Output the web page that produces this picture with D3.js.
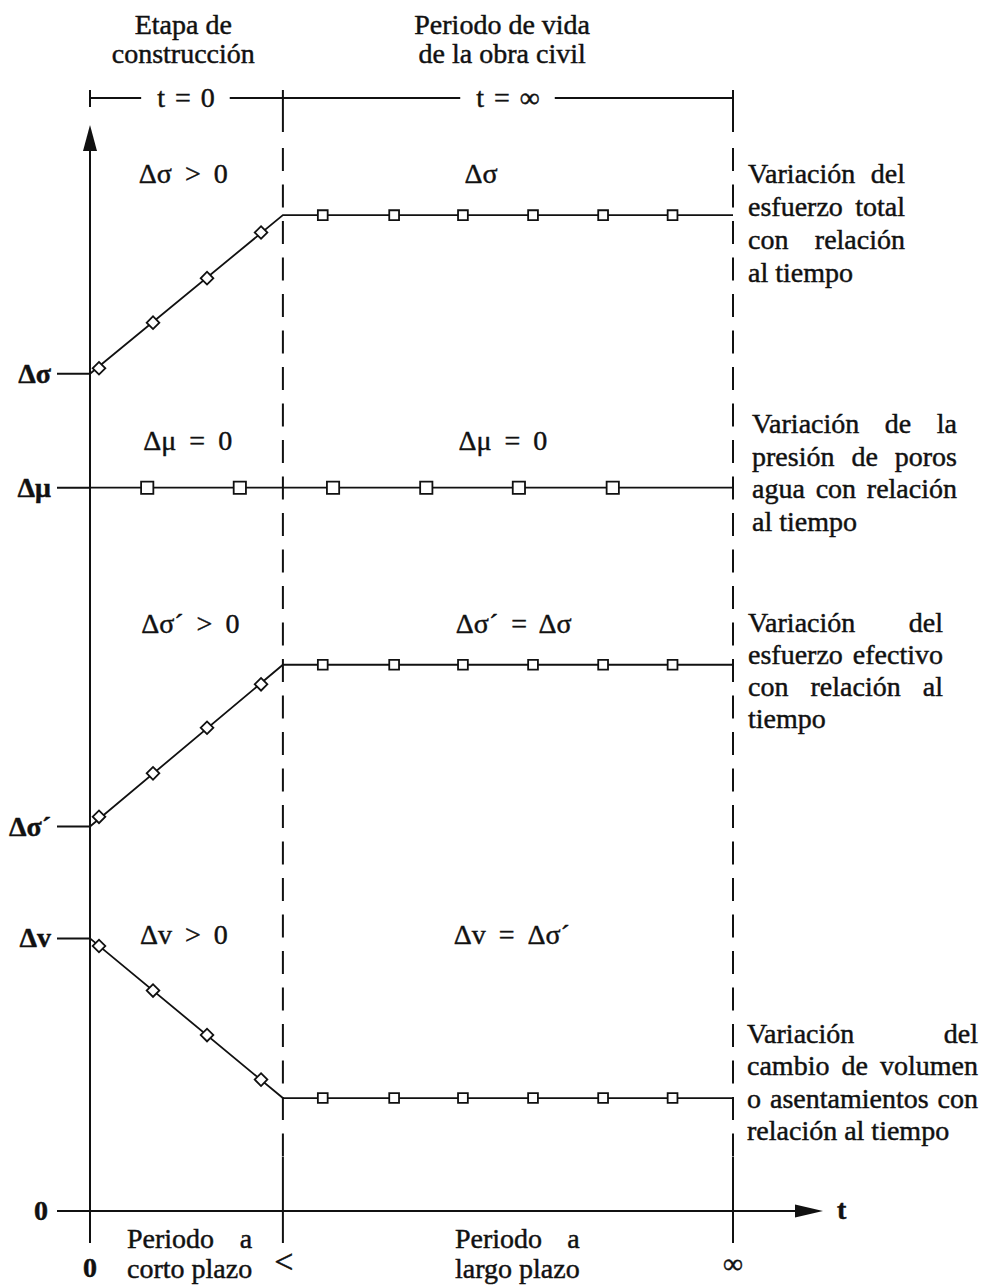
<!DOCTYPE html>
<html>
<head>
<meta charset="utf-8">
<script src="https://cdn.jsdelivr.net/npm/d3@7"></script>
<style>
  html, body { margin: 0; padding: 0; background: #fff; }
  svg { display: block; }
  text { font-family: "Liberation Serif", "Times New Roman", serif; fill: #111; stroke: #111; stroke-width: 0.45px; }
</style>
</head>
<body>
<svg id="chart" width="983" height="1286"></svg>
<script>
// ---- time axis (0 = start, 30 = end of construction, 100 = t -> infinity)
const tBuilt = 30;
const tInf = 100;
const tAxisEnd = 114;

// ---- levels marked on the vertical axis
const levelLabels = ["Δσ", "Δμ", "Δσ´", "Δv", "0"];
const levelValues = [77.1, 66.6, 35.4, 25.1, 0];

// ---- break points of each curve [t, value]
const totalStressLine = [[0, 77.1], [30, 91.7], [100, 91.7]];
const porePressureLine = [[0, 66.6], [100, 66.6]];
const effectiveStressLine = [[0, 35.4], [30, 50.3], [100, 50.3]];
const volumeLine = [[0, 25.1], [30, 10.4], [100, 10.4]];

// ---- construction-stage readings (diamonds)
const rampTimes = [1.4, 9.8, 18.2, 26.6];
const totalStressRamp = [77.6, 81.8, 85.9, 90.1];
const effectiveStressRamp = [36.3, 40.3, 44.5, 48.5];
const volumeRamp = [24.4, 20.3, 16.2, 12.1];

// ---- long-term readings (squares)
const plateauTimes = [36.2, 47.3, 58.0, 68.9, 79.8, 90.6];
const totalStressPlateau = [91.7, 91.7, 91.7, 91.7, 91.7, 91.7];
const effectiveStressPlateau = [50.3, 50.3, 50.3, 50.3, 50.3, 50.3];
const volumePlateau = [10.4, 10.4, 10.4, 10.4, 10.4, 10.4];
const poreTimes = [8.9, 23.3, 37.8, 52.3, 66.7, 81.3];
const porePressureValues = [66.6, 66.6, 66.6, 66.6, 66.6, 66.6];

// ---- region annotations
const regionTexts = ["Δσ > 0", "Δσ", "Δμ = 0", "Δμ = 0", "Δσ´ > 0", "Δσ´ = Δσ", "Δv > 0", "Δv = Δσ´"];
const regionTimes = [14.5, 60.8, 15.2, 64.2, 15.6, 65.9, 14.6, 65.6];
const regionValues = [94.7, 94.7, 70.1, 70.1, 53.2, 53.2, 24.6, 24.6];

// ---- descriptive texts
const stageTitles = [["Etapa de", "construcción"], ["Periodo de vida", "de la obra civil"]];
const stageTimes = [14.5, 64.1];
const bracketTexts = ["t = 0", "t = ∞"];
const curveNotes = [
  ["Variación del", "esfuerzo total", "con relación", "al tiempo"],
  ["Variación de la", "presión de poros", "agua con relación", "al tiempo"],
  ["Variación del", "esfuerzo efectivo", "con relación al", "tiempo"],
  ["Variación del", "cambio de volumen", "o asentamientos con", "relación al tiempo"]
];
const curveNoteTop = [94.7, 71.6, 53.3, 15.5];
const periodTexts = [["Periodo a", "corto plazo"], ["Periodo a", "largo plazo"]];
const timeTickLabels = ["0", "<", "∞"];

const svg = d3.select("#chart");
const x = d3.scaleLinear().domain([0, 100]).range([90, 733]);
const y = d3.scaleLinear().domain([0, 100]).range([1211, 125]);
const ink = "#111";
const FS = 28;

// ---------- vertical phase boundaries (dashed)
[tBuilt, tInf].forEach(t => {
  const xp = x(t);
  svg.append("line").attr("x1", xp).attr("x2", xp).attr("y1", 90).attr("y2", 132)
    .attr("stroke", ink).attr("stroke-width", 2);
  svg.append("line").attr("x1", xp).attr("x2", xp).attr("y1", 148).attr("y2", 1157)
    .attr("stroke", ink).attr("stroke-width", 2).attr("stroke-dasharray", "23 13.5");
  svg.append("line").attr("x1", xp).attr("x2", xp).attr("y1", 1157).attr("y2", 1243)
    .attr("stroke", ink).attr("stroke-width", 2);
});

// ---------- top bracket with t = 0 and t = inf
const bracketY = 98;
const bracketSpans = [[0, tBuilt], [tBuilt, tInf]];
svg.append("line").attr("x1", x(0)).attr("x2", x(0)).attr("y1", 90).attr("y2", 107)
  .attr("stroke", ink).attr("stroke-width", 2);
bracketSpans.forEach((s, i) => {
  const cx = i === 0 ? (x(s[0]) + x(s[1])) / 2 - 0.5 : 508;
  const tx = svg.append("text").attr("x", cx).attr("y", bracketY + 9)
    .attr("text-anchor", "middle").attr("font-size", FS).attr("word-spacing", 3)
    .text(bracketTexts[i]);
  const bb = tx.node().getBBox();
  svg.append("line").attr("x1", x(s[0])).attr("x2", bb.x - 16).attr("y1", bracketY).attr("y2", bracketY)
    .attr("stroke", ink).attr("stroke-width", 2);
  svg.append("line").attr("x1", bb.x + bb.width + 15).attr("x2", x(s[1])).attr("y1", bracketY).attr("y2", bracketY)
    .attr("stroke", ink).attr("stroke-width", 2);
});

// ---------- stage titles
stageTitles.forEach((lines, i) => {
  lines.forEach((l, j) => {
    svg.append("text").attr("x", x(stageTimes[i])).attr("y", 34 + j * 29)
      .attr("text-anchor", "middle").attr("font-size", FS).text(l);
  });
});

// ---------- axes
const axisX0 = x(0) - 33;
// vertical axis with arrow
svg.append("line").attr("x1", x(0)).attr("x2", x(0)).attr("y1", y(100) + 20).attr("y2", 1243)
  .attr("stroke", ink).attr("stroke-width", 2);
svg.append("path")
  .attr("d", `M${x(0)},${y(100)} L${x(0) - 7},${y(100) + 26} L${x(0) + 7},${y(100) + 26} Z`)
  .attr("fill", ink);
// horizontal (time) axis with arrow
svg.append("line").attr("x1", axisX0).attr("x2", x(tAxisEnd) - 20).attr("y1", y(0)).attr("y2", y(0))
  .attr("stroke", ink).attr("stroke-width", 2);
svg.append("path")
  .attr("d", `M${x(tAxisEnd)},${y(0)} L${x(tAxisEnd) - 28},${y(0) - 6.5} L${x(tAxisEnd) - 28},${y(0) + 6.5} Z`)
  .attr("fill", ink);
svg.append("text").attr("x", x(tAxisEnd) + 14).attr("y", y(0) + 8)
  .attr("font-size", FS).attr("font-weight", "bold").text("t");

// level ticks and labels on the vertical axis
levelLabels.forEach((lab, i) => {
  svg.append("line").attr("x1", axisX0).attr("x2", x(0))
    .attr("y1", y(levelValues[i])).attr("y2", y(levelValues[i]))
    .attr("stroke", ink).attr("stroke-width", 2);
  svg.append("text").attr("x", lab === "0" ? 48 : 51).attr("y", y(levelValues[i]) + 9)
    .attr("text-anchor", "end").attr("font-size", FS).attr("font-weight", "bold").text(lab);
});

// time labels under the axis
const tickTimes = [0, tBuilt, tInf];
timeTickLabels.forEach((lab, i) => {
  svg.append("text").attr("x", x(tickTimes[i]) + (i === 1 ? 1 : 0)).attr("y", i === 0 ? 1277 : 1273)
    .attr("text-anchor", "middle").attr("font-size", i === 1 ? 34 : FS)
    .attr("font-weight", i === 0 ? "bold" : "normal").text(lab);
});

// ---------- curves
const line = d3.line().x(d => x(d[0])).y(d => y(d[1]));
[totalStressLine, porePressureLine, effectiveStressLine, volumeLine].forEach(pts => {
  svg.append("path").attr("d", line(pts)).attr("fill", "none")
    .attr("stroke", ink).attr("stroke-width", 1.8).attr("stroke-linejoin", "miter");
});

// markers
const diamond = d3.symbol().type(d3.symbolSquare).size(80);
const squareSmall = d3.symbol().type(d3.symbolSquare).size(96);
const squareBig = d3.symbol().type(d3.symbolSquare).size(150);

function markers(times, values, sym, rotate) {
  svg.append("g").selectAll("path")
    .data(times.map((t, i) => [t, values[i]]))
    .join("path")
    .attr("d", sym)
    .attr("transform", d => `translate(${x(d[0])},${y(d[1])})${rotate ? " rotate(45)" : ""}`)
    .attr("fill", "#fff").attr("stroke", ink).attr("stroke-width", 1.8);
}
markers(rampTimes, totalStressRamp, diamond, true);
markers(rampTimes, effectiveStressRamp, diamond, true);
markers(rampTimes, volumeRamp, diamond, true);
markers(plateauTimes, totalStressPlateau, squareSmall, false);
markers(plateauTimes, effectiveStressPlateau, squareSmall, false);
markers(plateauTimes, volumePlateau, squareSmall, false);
markers(poreTimes, porePressureValues, squareBig, false);

// ---------- region annotations
regionTexts.forEach((txt, i) => {
  svg.append("text").attr("x", x(regionTimes[i])).attr("y", y(regionValues[i]))
    .attr("text-anchor", "middle").attr("font-size", FS).attr("word-spacing", 6).text(txt);
});

// ---------- justified text blocks
function justified(lines, x0, width, yTop, lh, weight) {
  const g = svg.append("g").attr("font-size", FS).attr("font-weight", weight || "normal");
  let w = width;
  if (w == null) {
    const probe = g.append("text").text(lines[lines.length - 1]);
    w = probe.node().getComputedTextLength();
    probe.remove();
  }
  lines.forEach((ln, i) => {
    const yy = yTop + i * lh;
    const words = ln.split(" ");
    if (i === lines.length - 1 || words.length === 1) {
      g.append("text").attr("x", x0).attr("y", yy).text(ln);
      return;
    }
    const nodes = words.map(wd => g.append("text").attr("y", yy).text(wd));
    const widths = nodes.map(n => n.node().getComputedTextLength());
    const gap = (w - d3.sum(widths)) / (words.length - 1);
    let cx = x0;
    nodes.forEach((n, j) => { n.attr("x", cx); cx += widths[j] + gap; });
  });
}

const noteX = [748, 752, 748, 747];
const noteW = [157, 205, 195, 231];
const noteLH = [33, 32.5, 32, 32.5];
curveNotes.forEach((lines, i) => {
  justified(lines, noteX[i], noteW[i], y(curveNoteTop[i]), noteLH[i]);
});

const periodX = [127, 455];
periodTexts.forEach((lines, i) => justified(lines, periodX[i], null, 1248, 30));
</script>
</body>
</html>
